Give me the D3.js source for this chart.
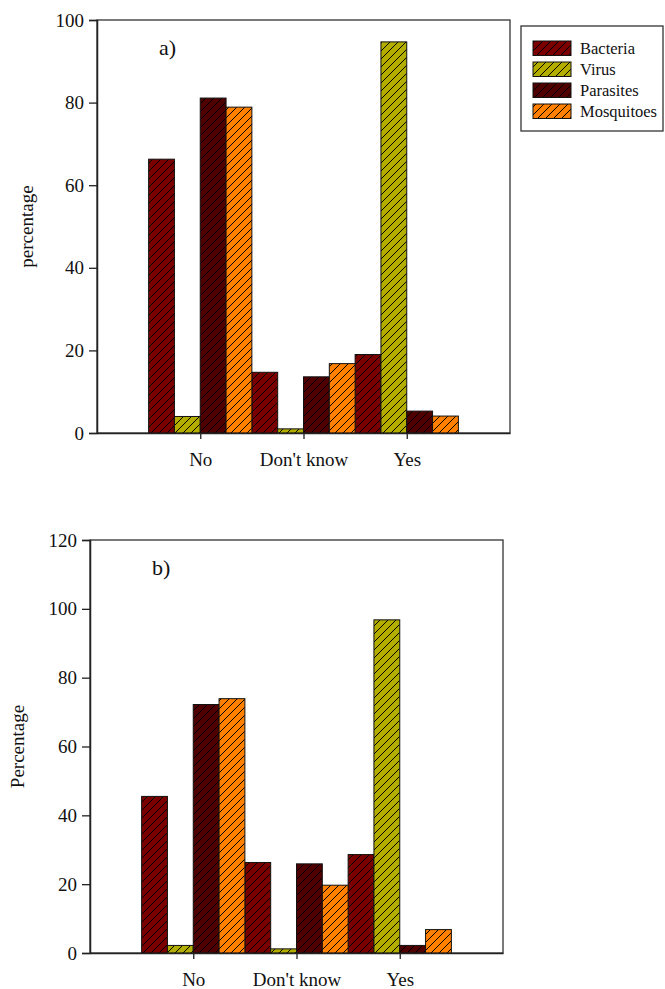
<!DOCTYPE html>
<html>
<head>
<meta charset="utf-8">
<script src="https://cdn.jsdelivr.net/npm/d3@7"></script>
<style>
  body { margin: 0; background: #fff; }
  svg text { font-family: "Liberation Serif", "Times New Roman", serif; fill: #111; }
</style>
</head>
<body>
<div id="screen"></div>
<script>
// answers on the x axis
const categories = ["No", "Don't know", "Yes"];
const seriesNames = ["Bacteria", "Virus", "Parasites", "Mosquitoes"];
const seriesColors = ["#7a0000", "#b3ad00", "#4f0000", "#ff8000"];

// panel a) values, one array per series (No, Don't know, Yes)
const aBacteria = [66.3, 14.7, 19.0];
const aVirus = [4.0, 1.0, 94.7];
const aParasites = [81.1, 13.6, 5.3];
const aMosquitoes = [78.9, 16.8, 4.1];

// panel b)
const bBacteria = [45.5, 26.3, 28.6];
const bVirus = [2.2, 1.2, 96.8];
const bParasites = [72.2, 25.9, 2.2];
const bMosquitoes = [73.9, 19.7, 6.8];

const aTicks = [0, 20, 40, 60, 80, 100];
const bTicks = [0, 20, 40, 60, 80, 100, 120];

var svg = d3.select("#screen").append("svg").attr("width", 665).attr("height", 989);
var defs = svg.append("defs");

// one hatch pattern per series ("/" lines over the fill colour)
seriesNames.forEach(function(name, i) {
    var p = defs.append("pattern")
        .attr("id", "hatch" + i)
        .attr("patternUnits", "userSpaceOnUse")
        .attr("width", 8).attr("height", 8);
    p.append("rect").attr("width", 8).attr("height", 8).attr("fill", seriesColors[i]);
    p.append("path")
        .attr("d", "M0,8 L8,0 M-1,1 L1,-1 M7,9 L9,7")
        .attr("stroke", "#000").attr("stroke-width", 1);
});

const drawPanel = function(o) {
    var g = svg.append("g");
    var x = d3.scalePoint().domain(categories).range([o.left, o.right]).padding(1);
    var y = d3.scaleLinear().domain([0, o.max]).range([o.bottom, o.top]);
    var step = x.step();
    var bw = step / 4;

    // frame
    g.append("rect")
        .attr("x", o.left).attr("y", o.top)
        .attr("width", o.right - o.left).attr("height", o.bottom - o.top)
        .attr("fill", "none").attr("stroke", "#333").attr("stroke-width", 1.3);

    o.series.forEach(function(vals, s) {
        g.selectAll(null).data(vals).enter().append("rect")
            .attr("x", (d, i) => x(categories[i]) - 2 * bw + s * bw)
            .attr("y", d => y(d))
            .attr("width", bw)
            .attr("height", d => y(0) - y(d))
            .attr("fill", "url(#hatch" + s + ")")
            .attr("stroke", "#111").attr("stroke-width", 1);
    });

    var yAxis = g.append("g")
        .attr("transform", "translate(" + o.left + ",0)")
        .call(d3.axisLeft(y).tickValues(o.ticks).tickSize(8).tickPadding(5));
    yAxis.select(".domain").attr("stroke", "#222").attr("stroke-width", 1.5);
    yAxis.selectAll(".tick line").attr("stroke", "#222").attr("stroke-width", 1.3);
    yAxis.selectAll(".tick text").style("font-size", "19px").style("font-family", "Liberation Serif").attr("fill", "#111");

    var xAxis = g.append("g")
        .attr("transform", "translate(0," + o.bottom + ")")
        .call(d3.axisBottom(x).tickSize(6).tickPadding(14).tickSizeOuter(0));
    xAxis.select(".domain").attr("stroke", "#222").attr("stroke-width", 1.5);
    xAxis.selectAll(".tick line").attr("stroke", "#222").attr("stroke-width", 1.3);
    xAxis.selectAll(".tick text").style("font-size", "19px").style("font-family", "Liberation Serif").attr("fill", "#111");

    g.append("text")
        .text(o.label)
        .attr("transform", "translate(" + o.labelX + "," + ((o.top + o.bottom) / 2) + ") rotate(-90)")
        .attr("text-anchor", "middle")
        .style("font-size", "19px");

    g.append("text")
        .text(o.tag)
        .attr("x", o.left + 62).attr("y", o.top + 35)
        .style("font-size", "22px");
};

drawPanel({
    left: 97, right: 510, top: 20, bottom: 433, max: 100, ticks: aTicks,
    series: [aBacteria, aVirus, aParasites, aMosquitoes],
    label: "percentage", labelX: 33, tag: "a)"
});

drawPanel({
    left: 90, right: 503, top: 540, bottom: 953, max: 120, ticks: bTicks,
    series: [bBacteria, bVirus, bParasites, bMosquitoes],
    label: "Percentage", labelX: 24, tag: "b)"
});

// legend
var legend = svg.append("g");
legend.append("rect")
    .attr("x", 521).attr("y", 26).attr("width", 142).attr("height", 105)
    .attr("fill", "#fff").attr("stroke", "#333").attr("stroke-width", 1.3);
seriesNames.forEach(function(name, i) {
    var ly = 41 + i * 21;
    legend.append("rect")
        .attr("x", 533).attr("y", ly).attr("width", 38).attr("height", 14.5)
        .attr("fill", "url(#hatch" + i + ")")
        .attr("stroke", "#111").attr("stroke-width", 1);
    legend.append("text")
        .text(name)
        .attr("x", 580).attr("y", ly + 12.5)
        .style("font-size", "16.5px");
});
</script>
</body>
</html>
